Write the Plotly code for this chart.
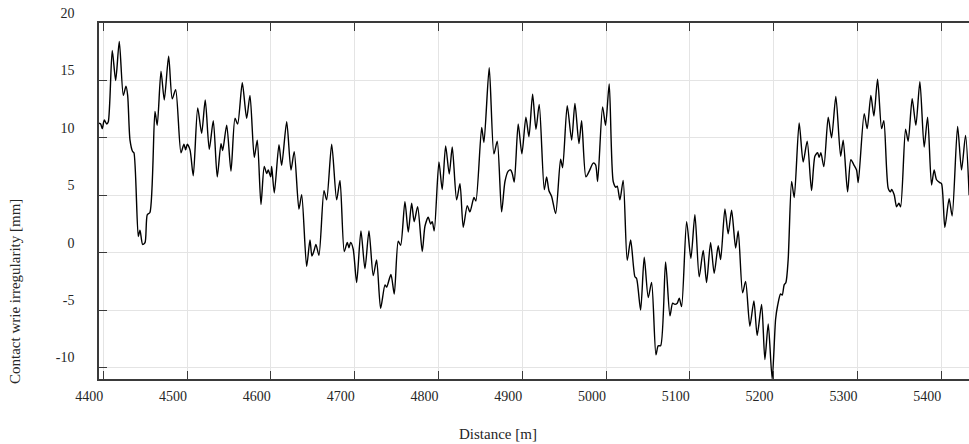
import plotly.graph_objects as go

# Distance along the line [m]
distance = [
    4394.9, 4396.9, 4398.8, 4401.2, 4404.1, 4406.0, 4410.7, 4414.8, 4419.1, 4423.9,
    4427.1, 4429.1, 4431.9, 4435.1, 4436.6, 4441.8, 4443.8, 4447.0, 4449.8, 4452.5,
    4455.7, 4461.7, 4464.4, 4468.9, 4472.8, 4478.0, 4482.3, 4486.4, 4492.7, 4496.3,
    4498.3, 4500.2, 4503.5, 4507.4, 4512.7, 4517.4, 4521.7, 4526.5,
    4531.3, 4536.0, 4540.5, 4542.5, 4547.3, 4552.4, 4557.2, 4560.4, 4565.9, 4571.1,
    4575.1, 4580.2, 4583.8, 4588.2, 4592.1, 4595.0, 4596.9, 4599.8, 4601.0, 4604.1,
    4609.7, 4612.9, 4618.9, 4624.0, 4627.9, 4633.5, 4636.8, 4642.7, 4646.7, 4649.0,
    4651.4,
    4653.8, 4657.4, 4663.4, 4666.6, 4672.6, 4678.5, 4682.5, 4687.6, 4691.2, 4693.2,
    4695.2, 4698.3, 4702.4, 4707.5, 4712.3, 4717.1, 4722.2, 4726.2, 4731.0, 4736.2,
    4738.2, 4743.3, 4747.3, 4752.0, 4754.9, 4760.0, 4764.0, 4768.0, 4771.1, 4775.2,
    4780.7,
    4783.9, 4787.8, 4790.7, 4792.6, 4795.0, 4800.6, 4804.5, 4808.6, 4812.9, 4816.5,
    4821.7, 4825.7, 4829.6, 4834.4, 4837.6, 4842.4, 4844.7, 4851.6, 4854.3, 4860.6,
    4866.2, 4870.2, 4875.4, 4879.4, 4883.3, 4886.2, 4888.1, 4890.5, 4895.2, 4899.6,
    4904.4, 4908.0, 4912.4,
    4916.4, 4920.3, 4926.3, 4929.1, 4931.9, 4935.1, 4939.9, 4945.8, 4948.2, 4953.7,
    4959.0, 4962.9, 4967.7, 4970.9, 4976.0, 4980.0, 4984.7, 4987.6, 4990.0, 4995.9,
    4999.5, 5003.8, 5008.6, 5011.8, 5013.4, 5016.6, 5020.5, 5025.3, 5029.4, 5034.5,
    5036.5, 5041.3, 5045.6,
    5050.4, 5054.4, 5059.6, 5062.3, 5065.2, 5071.1, 5076.3, 5079.5, 5082.2, 5085.0,
    5087.4, 5090.2, 5096.2, 5101.3, 5106.1, 5111.2, 5116.0, 5120.0, 5124.8, 5129.1,
    5133.9, 5136.8, 5141.9, 5145.8, 5149.9, 5154.7, 5157.8, 5163.0, 5166.6, 5171.7,
    5176.5,
    5180.4, 5185.7, 5189.6, 5193.6, 5198.3, 5202.4, 5204.8, 5208.3, 5210.3, 5212.6,
    5214.7, 5217.4, 5221.5, 5224.6, 5230.5, 5235.3, 5240.1, 5245.3, 5249.3, 5252.5,
    5254.4, 5256.4, 5260.0, 5265.2, 5269.2, 5274.3, 5280.0, 5283.1, 5288.3, 5292.2,
    5295.8, 5299.0, 5301.0, 5308.1,
    5311.7, 5316.1, 5319.7, 5324.1, 5328.9, 5331.6, 5336.8, 5339.6, 5340.8, 5343.9,
    5346.8, 5349.5, 5351.6, 5357.5, 5360.6, 5365.4, 5369.8, 5374.6, 5379.7, 5383.8,
    5388.5, 5391.6, 5394.5, 5398.4, 5400.5, 5404.4, 5409.5, 5413.1, 5419.6, 5424.3,
    5429.1, 5433.4,
]

# Contact wire irregularity [mm]
irregularity = [
    11.27, 11.2, 10.8, 11.55, 11.2, 11.4, 17.6, 15.0, 18.4, 13.7,
    14.5, 13.7, 9.8, 8.8, 8.7, 1.4, 1.96, 0.72, 0.87, 3.3,
    3.5, 12.3, 11.1, 15.8, 13.3, 17.1, 13.4, 14.2, 8.7, 9.45,
    8.95, 9.45, 8.95, 6.7, 12.6, 10.4, 13.3, 9.0,
    11.5, 6.6, 9.5, 8.9, 11.1, 7.1, 11.7, 11.2, 14.8, 11.7,
    13.7, 8.3, 9.8, 4.2, 7.5, 6.9, 7.2, 6.6, 7.5, 5.2,
    9.4, 7.6, 11.4, 7.2, 8.8, 3.8, 5.05, -1.2, 1.1, -0.3,
    0.14,
    0.72, -0.23, 5.4, 4.6, 9.45, 4.6, 6.3, 0.1, 0.9, 0.43,
    0.9, 0.3, -2.6, 1.9, -1.4, 1.9, -2.0, -0.64, -4.85, -2.8,
    -3.0, -1.9, -3.6, 1.0, 0.64, 4.45, 1.8, 4.3, 2.7, 4.0,
    0.1,
    2.3, 3.1, 2.5, 2.7, 1.9, 7.9, 5.5, 9.3, 6.85, 9.2,
    4.6, 6.0, 2.2, 4.1, 3.55, 4.8, 4.5, 10.9, 9.6, 16.1,
    8.6, 9.7, 3.55, 6.2, 7.1, 7.2, 6.9, 6.15, 11.2, 8.6,
    11.8, 10.1, 13.8,
    10.75, 12.9, 5.5, 6.6, 5.4, 4.9, 3.4, 8.15, 7.4, 12.8,
    9.8, 13.0, 9.5, 11.5, 6.6, 7.1, 7.8, 7.65, 6.2, 12.7,
    11.1, 14.7, 6.2, 5.7, 5.8, 4.6, 6.3, -0.66, 1.1, -2.1,
    -2.25, -5.0, -0.4,
    -3.9, -2.6, -8.9, -8.1, -8.1, -0.8, -5.5, -4.4, -4.5, -4.4,
    -3.96, -4.7, 2.7, -0.5, 3.3, -2.1, 0.2, -2.6, 0.9, -1.8,
    0.6, -0.6, 3.8, 1.65, 3.7, 0.4, 1.9, -3.5, -2.5, -6.4,
    -4.2,
    -7.2, -4.5, -9.3, -6.2, -11.0, -5.8, -4.6, -3.6, -3.7, -2.8,
    -2.6, -0.6, 6.2, 4.8, 11.3, 7.9, 9.7, 5.4, 8.4, 8.7,
    8.3, 8.7, 7.5, 11.8, 10.0, 13.6, 8.4, 9.8, 5.3, 8.1,
    7.65, 7.2, 6.1, 12.1,
    10.8, 13.7, 11.9, 15.1, 10.8, 11.5, 5.6, 5.3, 5.5, 5.05,
    4.0, 4.3, 4.0, 10.75, 9.7, 13.4, 11.1, 14.9, 9.2, 11.8,
    5.9, 7.2, 6.35, 6.1, 6.0, 2.2, 4.7, 3.2, 11.0, 7.2,
    10.2, 5.0,
]

x_ticks = [4400, 4500, 4600, 4700, 4800, 4900, 5000, 5100, 5200, 5300, 5400]
y_ticks = [-10, -5, 0, 5, 10, 15, 20]
x_title = "Distance [m]"
y_title = "Contact wrie irregularity [mm]"

serif = "Liberation Serif, Times New Roman, serif"
axis_col = "#3a3a3a"
grid_col = "#e4e4e4"

fig = go.Figure(
    go.Scatter(
        x=distance, y=irregularity, mode="lines",
        line=dict(color="black", width=1.4, shape="spline", smoothing=0.7),
        hoverinfo="skip",
    )
)

common = dict(
    showline=True, linecolor=axis_col, linewidth=1.5,
    ticks="inside", ticklen=8, tickwidth=1.2, tickcolor=axis_col,
    showgrid=True, gridcolor=grid_col, gridwidth=1, zeroline=False,
    tickfont=dict(family=serif, size=14, color="#262626"),
)

fig.update_layout(
    width=969, height=444,
    margin=dict(l=99, r=0, t=23, b=65),
    paper_bgcolor="white", plot_bgcolor="white",
    showlegend=False,
    xaxis=dict(range=[4394.9, 4394.9 + 870 / 0.8379], tickvals=x_ticks,
               ticktext=[str(v) for v in x_ticks], mirror="ticks",
               ticklabelshift=-14, ticklabelstandoff=3, **common),
    yaxis=dict(range=[-11, 20.001], tickvals=y_ticks, ticktext=[str(v) for v in y_ticks],
               mirror=False, ticklabelshift=-10, ticklabelstandoff=20, **common),
    annotations=[
        dict(text=x_title, xref="paper", yref="paper", x=(498 - 99) / 870, y=(379 - 434) / 356,
             xanchor="center", yanchor="middle", showarrow=False,
             font=dict(family=serif, size=15, color="#262626")),
        dict(text=y_title, xref="paper", yref="paper", x=(15 - 99) / 870, y=(379 - 292) / 356,
             xanchor="center", yanchor="middle", showarrow=False, textangle=-90,
             font=dict(family=serif, size=15, color="#262626")),
    ],
)

fig.write_html("out.html")
